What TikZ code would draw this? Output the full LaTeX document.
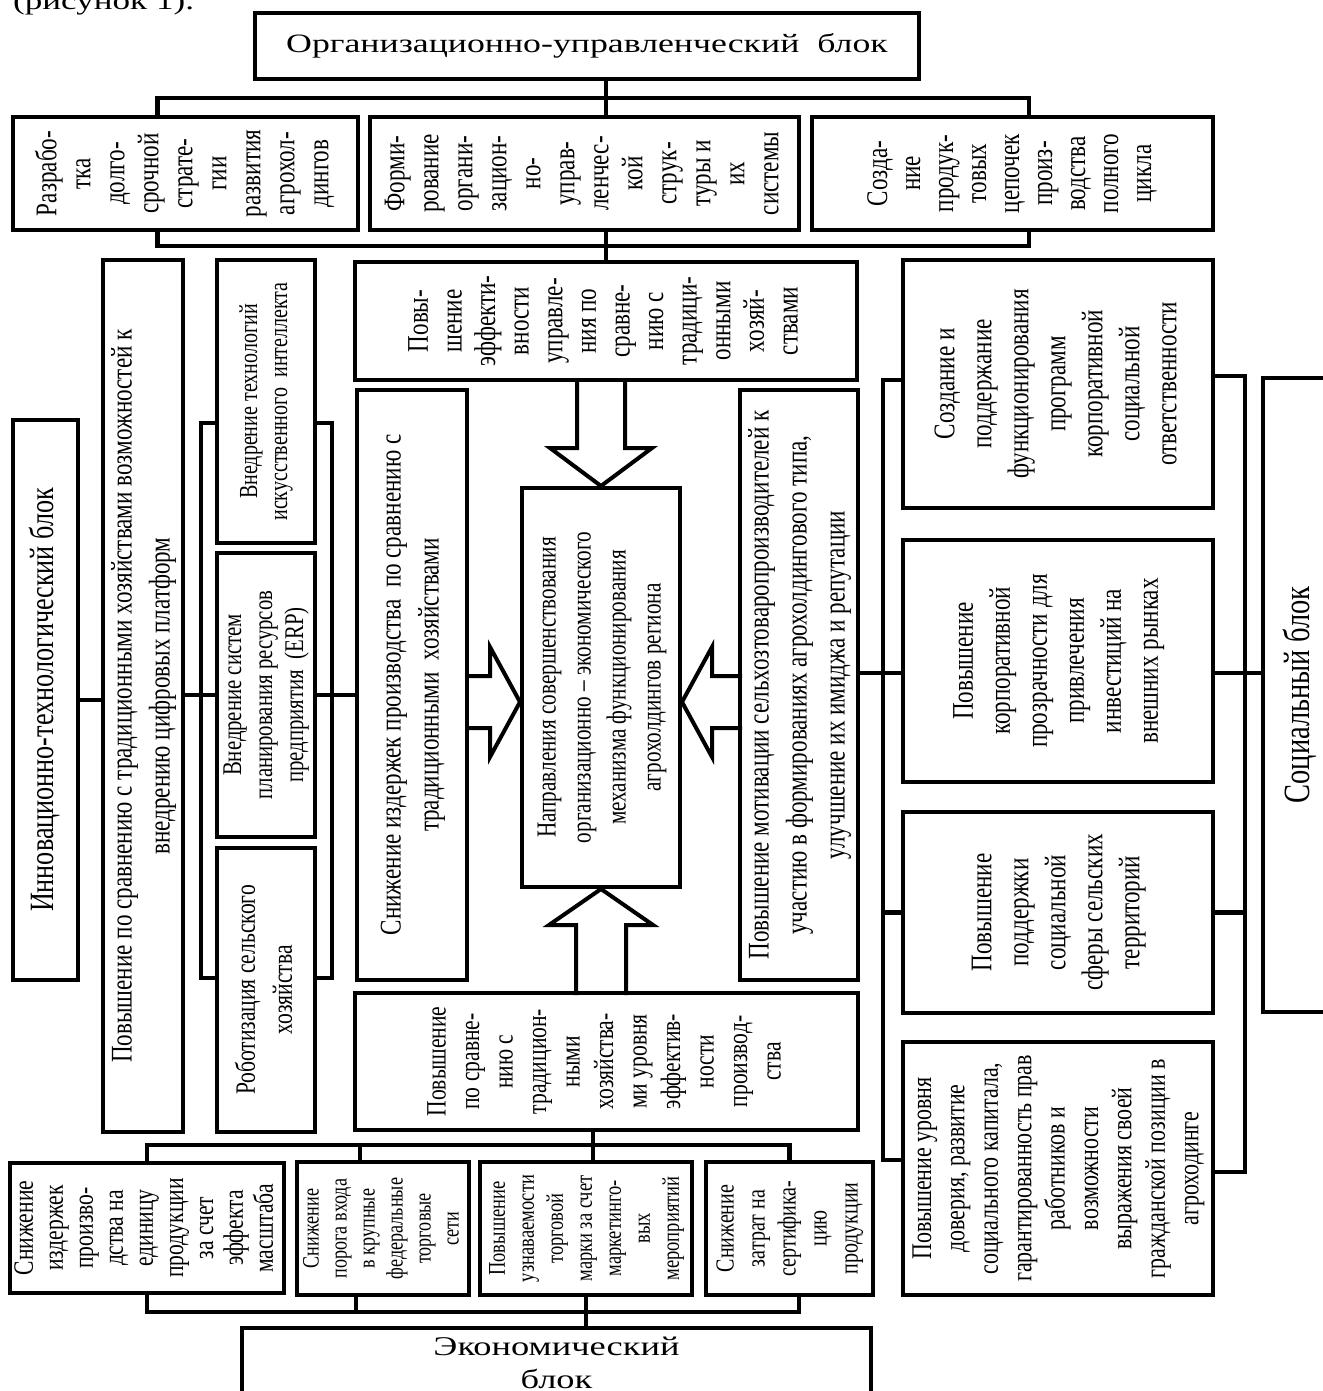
\documentclass[tikz,border=0pt]{standalone}
\usepackage{fontspec}
\setmainfont{Liberation Serif}
\newfontfamily\vf[FakeStretch=0.77]{Liberation Serif}
\newfontfamily\hf[FakeStretch=1.35]{Liberation Serif}
\usepackage{tikz}
\usetikzlibrary{calc}
\newcommand\vtext[1]{\rotatebox{90}{\begin{tabular}{@{}c@{}}#1\end{tabular}}}

\begin{document}
\begin{tikzpicture}[x=1pt,y=-1pt,
    blk/.style={draw,line width=4pt,fill=white,inner sep=0pt},
    fs/.style 2 args={font={\vf\fontsize{#1}{#2}\selectfont}},
    hs/.style 2 args={font={\hf\fontsize{#1}{#2}\selectfont}},
    wire/.style={line width=4.5pt},
    bigarrow/.style={line width=4pt,line join=miter}]
\useasboundingbox (0,0) rectangle (1322,1391);

\node[hs={26}{30},anchor=base west,inner sep=0pt] (fig) at (13,10) {(рисунок 1).};

% organisational block
\node[blk,hs={26.5}{30},minimum width=664pt,minimum height=66pt] (org) at (587,46) {Организационно-управленческий\ \ блок};
\node[blk,fs={30}{34},minimum width=345pt,minimum height=113pt] (strat) at (185.5,173.5)
  {\vtext{Разрабо-\\тка\\долго-\\срочной\\страте-\\гии\\развития\\агрохол-\\дингов}};
\node[blk,fs={30}{34},minimum width=429pt,minimum height=113pt] (struct) at (584.5,173.5)
  {\vtext{Форми-\\рование\\органи-\\зацион-\\но-\\управ-\\ленчес-\\кой\\струк-\\туры и\\их\\системы}};
\node[blk,fs={30}{33},minimum width=401pt,minimum height=113pt] (chain) at (1012.5,173.5)
  {\vtext{Созда-\\ние\\продук-\\товых\\цепочек\\произ-\\водства\\полного\\цикла}};
\node[blk,fs={30}{33.6},minimum width=502pt,minimum height=118pt] (eff) at (606,321)
  {\vtext{Повы-\\шение\\эффекти-\\вности\\управле-\\ния по\\сравне-\\нию с\\традици-\\онными\\хозяй-\\ствами}};

% innovation block
\node[blk,fs={34}{38},minimum width=65pt,minimum height=560pt] (innov) at (45.5,700)
  {\vtext{Инновационно-технологический блок}};
\node[blk,fs={30}{38},minimum width=80pt,minimum height=872pt] (digit) at (143,696)
  {\vtext{Повышение по сравнению с традиционными хозяйствами возможностей к\\внедрению цифровых платформ}};
\node[blk,fs={26}{30},minimum width=98pt,minimum height=283pt] (ai) at (266,401.5)
  {\vtext{Внедрение технологий\\искусственного\ \ интеллекта}};
\node[blk,fs={27}{31},minimum width=98pt,minimum height=284pt] (erp) at (266,695)
  {\vtext{Внедрение систем\\планирования ресурсов\\предприятия\ \ (ERP)}};
\node[blk,fs={28}{37},minimum width=98pt,minimum height=284pt] (robot) at (266,990)
  {\vtext{Роботизация сельского\\хозяйства}};

% centre
\node[blk,fs={30}{38},minimum width=110pt,minimum height=590pt] (cost) at (412,685)
  {\vtext{Снижение издержек производства\ \ по сравнению с\\традиционными\ \ хозяйствами}};
\node[blk,fs={27.5}{35},minimum width=158pt,minimum height=399pt] (cen) at (601,687.5)
  {\vtext{Направления совершенствования\\организационно – экономического\\механизма функционирования\\агрохолдингов региона}};
\node[blk,fs={30}{38},minimum width=118pt,minimum height=590pt] (motiv) at (799,685)
  {\vtext{Повышение мотивации сельхозтоваропроизводителей к\\участию в формированиях агрохолдингового типа,\\улучшение их имиджа и репутации}};
\node[blk,fs={28}{33.5},minimum width=503pt,minimum height=137pt] (prodeff) at (606.5,1061.5)
  {\vtext{Повышение\\по сравне-\\нию с\\традицион-\\ными\\хозяйства-\\ми уровня\\эффектив-\\ности\\производ-\\ства}};

% social block
\node[blk,fs={30}{37},minimum width=310pt,minimum height=248pt] (csr) at (1058,384)
  {\vtext{Создание и\\поддержание\\функционирования\\программ\\корпоративной\\социальной\\ответственности}};
\node[blk,fs={30}{37},minimum width=310pt,minimum height=242pt] (transp) at (1058,661)
  {\vtext{Повышение\\корпоративной\\прозрачности для\\привлечения\\инвестиций на\\внешних рынках}};
\node[blk,fs={30}{37},minimum width=310pt,minimum height=201pt] (rural) at (1058,912.5)
  {\vtext{Повышение\\поддержки\\социальной\\сферы сельских\\территорий}};
\node[blk,fs={28.5}{33.4},minimum width=310pt,minimum height=253pt] (trust) at (1058,1168.5)
  {\vtext{Повышение уровня\\доверия, развитие\\социального капитала,\\гарантированность прав\\работников и\\возможности\\выражения своей\\гражданской позиции в\\агроходинге}};
\node[blk,fs={37}{42},minimum width=77pt,minimum height=634pt] (soc) at (1301.5,695)
  {\vtext{Социальный блок}};

% economic block
\node[blk,fs={28}{30},minimum width=274pt,minimum height=130pt] (scale) at (147,1228)
  {\vtext{Снижение\\издержек\\произво-\\дства на\\единицу\\продукции\\за счет\\эффекта\\масштаба}};
\node[blk,fs={23.5}{28},minimum width=172pt,minimum height=133pt] (retail) at (383,1228.5)
  {\vtext{Снижение\\порога входа\\в крупные\\федеральные\\торговые\\сети}};
\node[blk,fs={24}{29},minimum width=212pt,minimum height=133pt] (brand) at (586,1228.5)
  {\vtext{Повышение\\узнаваемости\\торговой\\марки за счет\\маркетинго-\\вых\\мероприятий}};
\node[blk,fs={26}{31},minimum width=167pt,minimum height=133pt] (cert) at (789.5,1228.5)
  {\vtext{Снижение\\затрат на\\сертифика-\\цию\\продукции}};
\node[blk,hs={27}{33},align=center,minimum width=629pt,minimum height=70pt] (econ) at (556.5,1363)
  {Экономический\\блок};

% connectors
\draw[wire] (org.south -| eff.north) -- (struct.north -| eff.north);
\draw[wire] (struct.south -| eff.north) -- (eff.north);
\draw[wire] ($(strat.north)+(-28,0)$) -- ++(0,-17) -| ($(chain.north)+(16.5,0)$);
\draw[wire] ($(strat.south)+(-28,0)$) -- ++(0,14) -| ($(chain.south)+(16.5,0)$);

\draw[wire] (innov.east) -- (innov.east -| digit.west);
\draw[wire] (erp.west -| digit.east) -- (erp.west);
\draw[wire] (ai.west) ++(0,21.5) -- ++(-14,0) |- ($(robot.west)+(0,-12)$);
\draw[wire] (ai.east) ++(0,21.5) -- ++(15,0) |- ($(robot.east)+(0,-12)$);
\draw[wire] (erp.east) -- (erp.east -| cost.west);

\path ($(transp.west)+(0,12)$) coordinate (tw) ($(transp.east)+(0,12)$) coordinate (te);
\draw[wire] (tw -| motiv.east) -- (tw);
\draw[wire] (te) -- (te -| soc.west);
\draw[wire] (csr.west) ++(0,-4) -- ++(-18,0) |- ($(trust.west)+(0,-8.5)$);
\draw[wire] (csr.east) ++(0,-8) -- ++(30,0) |- ($(trust.east)+(0,3.5)$);
\draw[wire] (rural.west) -- ++(-18,0);
\draw[wire] (rural.east) -- ++(30,0);

\path ($(prodeff.south)+(-13.5,0)$) coordinate (pd);
\draw[wire] (pd) -- (pd |- brand.north);
\draw[wire] (scale.north) -- ++(0,-16) -| (cert.north);
\draw[wire] ($(retail.north)+(-23,0)$) -- ++(0,-15);
\draw[wire] (scale.south) -- ++(0,17) -| ($(cert.south)+(9.5,0)$);
\draw[wire] ($(retail.south)+(-27,0)$) -- ++(0,15);
\draw[wire] (brand.south) -- (brand.south |- econ.north);

% block arrows
\path ($(cen.west)+(0,14.5)$) coordinate (lt) ($(cen.east)+(0,14.5)$) coordinate (rt);
\draw[bigarrow] ($(cen.north)+(-24,-108)$) -- ++(0,70) -- ++(-27,0) -- (cen.north) -- ++(51,-38) -- ++(-27,0) -- ++(0,-70);
\draw[bigarrow] ($(cen.south)+(-25,106)$) -- ++(0,-70) -- ++(-27,0) -- (cen.south) -- ++(52,36) -- ++(-27,0) -- ++(0,70);
\draw[bigarrow] ($(lt)+(-55,-26)$) -- ++(25,0) -- ++(0,-29) -- (lt) -- ++(-30,55) -- ++(0,-29) -- ++(-25,0);
\draw[bigarrow] ($(rt)+(60,-26)$) -- ++(-30,0) -- ++(0,-29) -- (rt) -- ++(30,55) -- ++(0,-29) -- ++(30,0);
\end{tikzpicture}
\end{document}
